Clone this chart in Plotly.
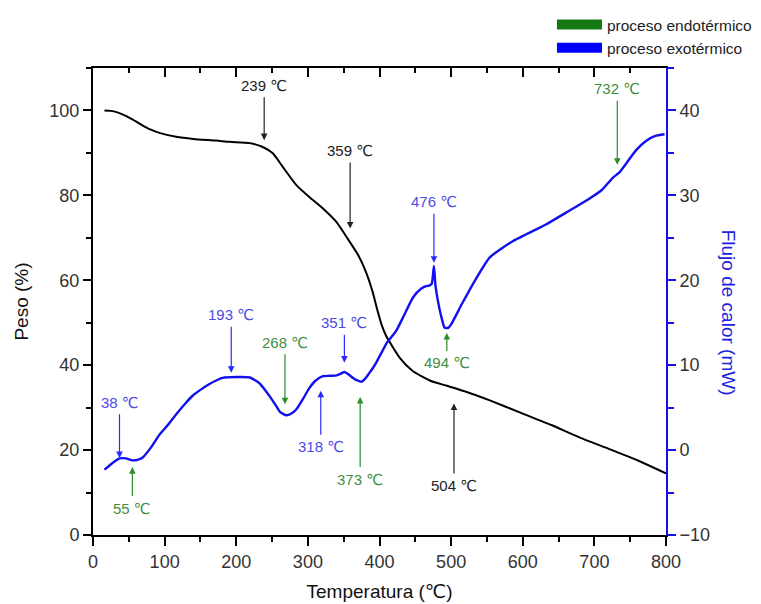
import plotly.graph_objects as go

# ---- data ----
tga_temp = [16, 25, 33, 45, 55, 67, 79, 95, 116, 140, 172, 191, 219, 237, 251, 265, 284, 302,
            321, 340, 354, 370, 381, 390, 397, 403, 409, 414, 428, 446, 470, 493, 520, 554,
            600, 640, 679, 720, 760, 800]
tga_weight = [100, 99.9, 99.6, 98.8, 97.9, 96.7, 95.6, 94.6, 93.8, 93.3, 92.9, 92.6, 92.3,
              91.4, 89.9, 86.7, 82.4, 79.6, 76.9, 73.7, 70.2, 66.0, 62.0, 57.5, 53.0, 49.5,
              47.0, 45.5, 41.8, 38.7, 36.4, 35.2, 33.8, 31.7, 28.6, 25.9, 23.0, 20.3, 17.6, 14.5]

dsc_temp = [16, 26, 37, 46, 55, 62, 69, 80, 93, 105, 116, 128, 139, 151, 162, 172, 181, 200,
            219, 232, 241, 247, 255, 261, 270, 277, 284, 293, 302, 311, 321, 330, 340, 346,
            351, 357, 363, 369, 375, 381, 386, 391, 396, 403, 410, 423, 435, 447, 458, 465,
            470, 473, 476, 478, 481.5, 486, 491, 496, 500, 515, 530, 554, 586, 633, 661, 689,
            710, 726, 735, 758, 772, 785, 798]
dsc_flow = [-2.3, -1.6, -0.98, -0.98, -1.2, -1.15, -0.9, 0.2, 1.84, 3.0, 4.2, 5.4, 6.4, 7.15,
            7.75, 8.2, 8.5, 8.6, 8.55, 7.9, 7.0, 6.3, 5.3, 4.5, 4.1, 4.3, 4.8, 6.0, 7.3, 8.2,
            8.7, 8.75, 8.8, 9.0, 9.2, 8.9, 8.5, 8.2, 8.05, 8.5, 9.1, 9.7, 10.4, 11.5, 12.6,
            14.0, 16.0, 18.0, 19.0, 19.3, 19.4, 19.6, 21.7, 19.5, 17.6, 15.8, 14.4, 14.4, 14.8,
            17.2, 19.5, 22.7, 24.6, 26.6, 28.0, 29.4, 30.6, 32.1, 32.7, 35.3, 36.4, 37.0, 37.2]

# annotated events: label temperature, curve ("tga"/"dsc"), value at arrow tip, kind
event_temp = [239, 359, 504, 732, 476, 494, 193, 268, 351, 318, 373, 37, 55]
event_label = ["239 ℃", "359 ℃", "504 ℃", "732 ℃", "476 ℃", "494 ℃", "193 ℃",
               "268 ℃", "351 ℃", "318 ℃", "373 ℃", "38 ℃", "55 ℃"]
event_curve = ["tga", "tga", "tga", "dsc", "dsc", "dsc", "dsc", "dsc", "dsc", "dsc", "dsc",
               "dsc", "dsc"]
event_value = [93.0, 72.2, 31.0, 33.6, 22.05, 13.8, 9.1, 5.4, 10.3, 7.0, 6.25, -0.95, -2.0]
event_kind = ["mass", "mass", "mass", "endo", "exo", "endo", "exo", "endo", "exo", "exo",
              "endo", "exo", "endo"]
# arrow offsets (pixels) from tip to label
event_ay = [-55, -78, 82, -76, -61, 30, -58, -62, -40, 56, 82, -56, 41]

x_ticks = [0, 100, 200, 300, 400, 500, 600, 700, 800]
left_ticks = [0, 20, 40, 60, 80, 100]
right_ticks = [-10, 0, 10, 20, 30, 40]

FONT = "Liberation Sans, Arial, DejaVu Sans, sans-serif"
BLUE = "#1010f0"
GREEN = "#137a13"

text_color = {"mass": "#222222", "exo": "#4b4be6", "endo": "#3f8f3f"}
arrow_color = {"mass": "#222222", "exo": "#2a2aff", "endo": "#2c8c2c"}

fig = go.Figure()

fig.add_trace(go.Scatter(x=tga_temp, y=tga_weight, mode="lines",
                         line=dict(color="black", width=2, shape="spline", smoothing=0.6),
                         showlegend=False, hoverinfo="skip"))
fig.add_trace(go.Scatter(x=dsc_temp, y=dsc_flow, mode="lines", yaxis="y2",
                         line=dict(color=BLUE, width=2.4, shape="spline", smoothing=0.5),
                         showlegend=False, hoverinfo="skip"))
# legend entries
fig.add_trace(go.Scatter(x=[None], y=[None], mode="lines", name="proceso endotérmico",
                         line=dict(color=GREEN, width=10)))
fig.add_trace(go.Scatter(x=[None], y=[None], mode="lines", name="proceso exotérmico",
                         line=dict(color="#0000ff", width=10)))
# carrier for the top axis
fig.add_trace(go.Scatter(x=[None], y=[None], xaxis="x2", showlegend=False, hoverinfo="skip"))

annotations = []
for t, lab, cur, v, k, ay in zip(event_temp, event_label, event_curve, event_value, event_kind, event_ay):
    annotations.append(dict(
        x=t, y=v, xref="x", yref="y" if cur == "tga" else "y2",
        text=lab, showarrow=True, ax=0, ay=ay,
        arrowhead=2, arrowsize=1.1, arrowwidth=1.2, arrowcolor=arrow_color[k],
        startstandoff=2,
        font=dict(family=FONT, size=15, color=text_color[k]),
    ))
annotations.append(dict(
    x=1.13, y=0.476, xref="paper", yref="paper", text="Flujo de calor (mW)",
    textangle=90, showarrow=False, font=dict(family=FONT, size=19, color="#2020e0")))
fig.update_layout(annotations=annotations)

fig.update_layout(
    width=753, height=596,
    margin=dict(l=85, r=95, t=60, b=69, autoexpand=False),
    paper_bgcolor="white", plot_bgcolor="white",
    font=dict(family=FONT, size=16, color="#333333"),
    xaxis=dict(range=[0, 800], tickvals=x_ticks, ticks="outside", ticklen=9, tickwidth=1.5,
               tickcolor="black", showline=True, linecolor="black", linewidth=2,
               showgrid=False, zeroline=False, automargin=False,
               minor=dict(dtick=50, ticks="outside", ticklen=5, tickwidth=1.5, tickcolor="black"),
               tickfont=dict(size=18, color="#333333"),
               title=dict(text="Temperatura (℃)", font=dict(size=19, color="#111111"), standoff=14)),
    xaxis2=dict(range=[0, 800], overlaying="x", side="top", anchor="y", tickvals=x_ticks,
                ticks="inside", ticklen=9, tickwidth=1.5, tickcolor="black", showticklabels=False,
                showline=True, linecolor="black", linewidth=2, showgrid=False, zeroline=False,
                automargin=False,
                minor=dict(dtick=50, ticks="inside", ticklen=5, tickwidth=1.5, tickcolor="black")),
    yaxis=dict(range=[0, 110], tickvals=left_ticks, ticks="outside", ticklen=8, tickwidth=1.5,
               tickcolor="black", showline=True, linecolor="black", linewidth=2,
               showgrid=False, zeroline=False, automargin=False,
               minor=dict(dtick=10, ticks="outside", ticklen=5, tickwidth=1.5, tickcolor="black"),
               tickfont=dict(size=18, color="#333333"),
               title=dict(text="Peso (%)", font=dict(size=19, color="#111111"), standoff=16)),
    yaxis2=dict(range=[-10, 45], overlaying="y", side="right", tickvals=right_ticks,
                ticks="outside", ticklen=8, tickwidth=1.5, tickcolor=BLUE,
                showline=True, linecolor=BLUE, linewidth=2, showgrid=False, zeroline=False,
                automargin=False,
                minor=dict(dtick=5, ticks="outside", ticklen=6, tickwidth=1.5, tickcolor=BLUE),
                tickfont=dict(size=18, color="#333333")),
    legend=dict(xref="container", yref="container", x=0.7224, y=1.0,
                xanchor="left", yanchor="top", bgcolor="rgba(0,0,0,0)",
                font=dict(family=FONT, size=15.5, color="#222222"), itemwidth=45,
                tracegroupgap=0),
    showlegend=True,
)

fig.write_html("out.html")
